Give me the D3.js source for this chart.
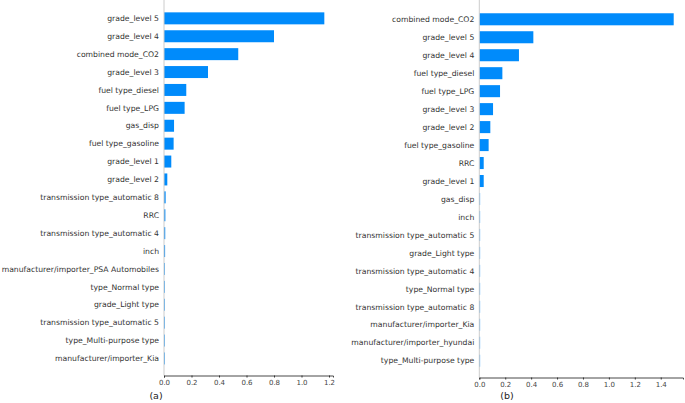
<!DOCTYPE html>
<html>
<head>
<meta charset="utf-8">
<script src="https://cdn.jsdelivr.net/npm/d3@7"></script>
<style>
  body { margin: 0; background: #fff; }
  svg { display: block; font-family: "DejaVu Sans", sans-serif; }
</style>
</head>
<body>
<svg id="chart" width="685" height="403"></svg>
<script>
// Panel (a) feature importances
const featuresA = [
  'grade_level 5', 'grade_level 4', 'combined mode_CO2', 'grade_level 3',
  'fuel type_diesel', 'fuel type_LPG', 'gas_disp', 'fuel type_gasoline',
  'grade_level 1', 'grade_level 2', 'transmission type_automatic 8', 'RRC',
  'transmission type_automatic 4', 'inch', 'manufacturer/importer_PSA Automobiles',
  'type_Normal type', 'grade_Light type', 'transmission type_automatic 5',
  'type_Multi-purpose type', 'manufacturer/importer_Kia'
];
const valuesA = [1.166, 0.80, 0.54, 0.32, 0.162, 0.15, 0.073, 0.07, 0.053, 0.024,
  0.012, 0.01, 0.009, 0.008, 0.005, 0.004, 0.002, 0.002, 0.001, 0.001];
const ticksA = [0, 0.2, 0.4, 0.6, 0.8, 1.0, 1.2];

// Panel (b) feature importances
const featuresB = [
  'combined mode_CO2', 'grade_level 5', 'grade_level 4', 'fuel type_diesel',
  'fuel type_LPG', 'grade_level 3', 'grade_level 2', 'fuel type_gasoline',
  'RRC', 'grade_level 1', 'gas_disp', 'inch', 'transmission type_automatic 5',
  'grade_Light type', 'transmission type_automatic 4', 'type_Normal type',
  'transmission type_automatic 8', 'manufacturer/importer_Kia',
  'manufacturer/importer_hyundai', 'type_Multi-purpose type'
];
const valuesB = [1.50, 0.417, 0.306, 0.178, 0.16, 0.106, 0.085, 0.072, 0.034, 0.034,
  0.004, 0.003, 0.002, 0.002, 0.002, 0.001, 0.001, 0.001, 0.001, 0.001];
const ticksB = [0, 0.2, 0.4, 0.6, 0.8, 1.0, 1.2, 1.4];

const barColor = '#008bfb';
const svg = d3.select('#chart');

function drawPanel(opts) {
  const { features, values, ticks, x0, pxPerUnit, axisEnd, top, bottom, label, labelX } = opts;
  const g = svg.append('g');

  const x = d3.scaleLinear()
    .domain([0, (axisEnd - x0) / pxPerUnit])
    .range([x0, axisEnd]);

  const y = d3.scaleBand()
    .domain(features)
    .range([top, bottom])
    .paddingInner(0.33)
    .paddingOuter(0.165);

  // bars
  g.selectAll('rect.bar')
    .data(features)
    .join('rect')
    .attr('class', 'bar')
    .attr('x', x(0))
    .attr('y', d => y(d))
    .attr('width', (d, i) => Math.max(0.8, x(values[i]) - x(0)))
    .attr('height', y.bandwidth())
    .attr('fill', barColor);

  // feature labels
  g.selectAll('text.feat')
    .data(features)
    .join('text')
    .attr('class', 'feat')
    .attr('x', x(0) - 5)
    .attr('y', d => y(d) + y.bandwidth() / 2)
    .attr('dy', '0.35em')
    .attr('text-anchor', 'end')
    .attr('font-size', 7.7)
    .attr('fill', '#333')
    .text(d => d);

  // zero line
  g.append('line')
    .attr('x1', x(0)).attr('x2', x(0))
    .attr('y1', 0).attr('y2', opts.axisY)
    .attr('stroke', '#ccc')
    .attr('stroke-width', 1);

  // x axis
  const axis = g.append('g')
    .attr('transform', `translate(0,${opts.axisY})`)
    .call(d3.axisBottom(x).tickValues(ticks).tickFormat(d3.format('.1f')).tickSize(2).tickPadding(3));
  axis.select('.domain').attr('stroke', '#333').attr('stroke-width', 0.9);
  axis.selectAll('.tick line').attr('stroke', '#333');
  axis.selectAll('.tick text')
    .attr('font-size', 7)
    .attr('font-family', '"DejaVu Sans", sans-serif')
    .attr('fill', '#444');

  // panel label
  g.append('text')
    .attr('x', labelX)
    .attr('y', 396)
    .attr('dy', '0.35em')
    .attr('text-anchor', 'middle')
    .attr('font-size', 9.5)
    .attr('fill', '#222')
    .text(label);
}

drawPanel({
  features: featuresA, values: valuesA, ticks: ticksA,
  x0: 164, pxPerUnit: 137.5, axisEnd: 333,
  top: 9.4, bottom: 367.4, axisY: 375.5,
  label: '(a)', labelX: 156
});

drawPanel({
  features: featuresB, values: valuesB, ticks: ticksB,
  x0: 479.3, pxPerUnit: 129.6, axisEnd: 683,
  top: 10.3, bottom: 369.7, axisY: 377.5,
  label: '(b)', labelX: 507
});
</script>
</body>
</html>
